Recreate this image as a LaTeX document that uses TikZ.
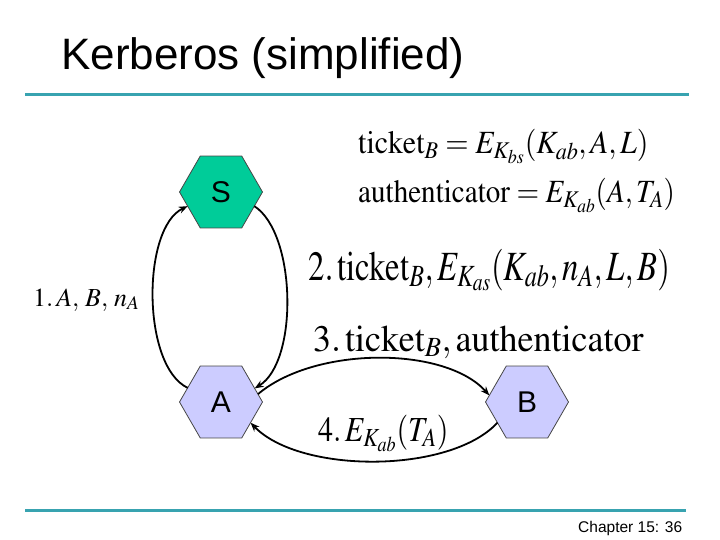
\documentclass[tikz,border=0pt]{standalone}
\usepackage{mathptmx}
\usepackage{graphicx}
\usepackage[no-math]{fontspec}
\setmainfont{Liberation Sans}
\usetikzlibrary{shapes.geometric,arrows.meta}
\definecolor{rulecol}{RGB}{56,163,176}
\definecolor{sgreen}{RGB}{0,204,153}
\definecolor{lav}{RGB}{204,204,255}
\definecolor{edgecol}{RGB}{70,70,70}
\tikzset{
  hexnode/.style={regular polygon,regular polygon sides=6,minimum size=83pt,inner sep=0pt,outer sep=0pt,draw=edgecol,line width=0.8pt,font=\fontsize{30}{36}\selectfont},
  arr/.style={line width=1.8pt,-{Stealth[length=9pt,width=7pt]}},
  mtext/.style={anchor=base west,inner sep=0pt},
  rulebar/.style={line width=3pt,rulecol}
}
\begin{document}
\begin{tikzpicture}[x=1pt,y=-1pt]
\useasboundingbox (0,0) rectangle (720,540);
\node[anchor=base west,inner sep=0pt,font=\fontsize{44}{52}\selectfont] (title) at (61,70) {Kerberos (simplified)};
\coordinate (r1a) at (25,95); \coordinate (r1b) at (689,95);
\draw[rulebar] (r1a) -- (r1b);
\coordinate (r2a) at (25,510); \coordinate (r2b) at (686,510);
\draw[rulebar] (r2a) -- (r2b);
\node[anchor=base west,inner sep=0pt,font=\fontsize{15.5}{18}\selectfont] (chap) at (578,532) {Chapter 15: 36};

\node[hexnode,fill=sgreen] (S) at (221,192) {S};
\node[hexnode,fill=lav] (A) at (221,402) {A};
\node[hexnode,fill=lav] (B) at (527,402) {B};

\node[mtext] (tk) at (358,154) {\fontsize{30}{36}\selectfont\scalebox{1}[1.08]{$\mathrm{ticket}_B = E_{K_{bs}}(K_{ab}, A, L)$}};
\node[mtext] (au) at (358,203) {\fontsize{30}{36}\selectfont\scalebox{0.97}[1.08]{$\mathrm{authenticator} = E_{K_{ab}}(A, T_A)$}};
\node[mtext] (m2) at (308,280) {\fontsize{32}{38}\selectfont\scalebox{1.02}[1.3]{$2.\,\mathrm{ticket}_B, E_{K_{as}}(K_{ab}, n_A, L, B)$}};
\node[mtext] (m1) at (33,306) {\fontsize{26}{30}\selectfont $1.\,A,\,B,\,n_A$};
\node[mtext] (m3) at (313,351) {\fontsize{36}{42}\selectfont\scalebox{1}[1.04]{$3.\,\mathrm{ticket}_B, \mathrm{authenticator}$}};
\node[mtext] (m4) at (318,441) {\fontsize{32}{38}\selectfont\scalebox{0.94}[1.1]{$4.\,E_{K_{ab}}(T_A)$}};

\draw[arr] (A.157) .. controls +(-46,-22) and +(-46,22) .. (S.203);
\draw[arr] (S.337) .. controls +(42,27) and +(44,-27) .. (A.22);
\draw[arr] (A.12) .. controls (315,346) and (445,346) .. (B.170);
\draw[arr] (B.215) .. controls (450,474) and (300,474) .. (A.325);
\end{tikzpicture}
\end{document}
